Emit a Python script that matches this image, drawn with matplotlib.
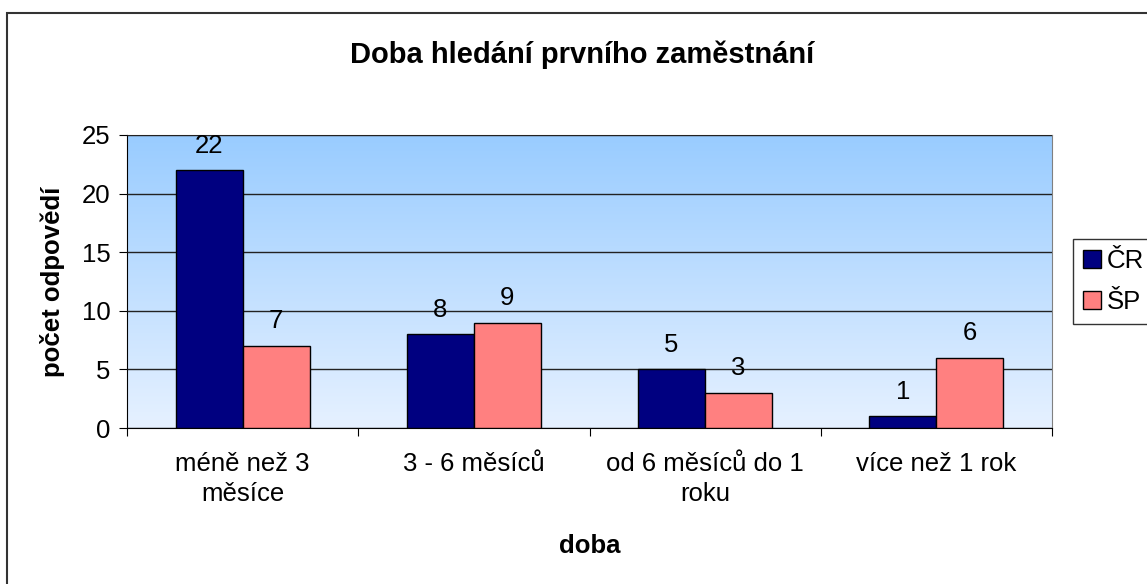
import matplotlib.pyplot as plt
import numpy as np
from matplotlib.patches import Rectangle

plt.rcParams['font.family'] = ['Liberation Sans', 'DejaVu Sans']

categories = ['méně než 3\nměsíce', '3 - 6 měsíců', 'od 6 měsíců do 1\nroku', 'více než 1 rok']
cr = [22, 8, 5, 1]
sp = [7, 9, 3, 6]
series_names = ['ČR', 'ŠP']

fs = 18.5

fig = plt.figure(figsize=(11.47, 5.84), dpi=100)
ax = fig.add_axes([127 / 1147, 1 - 428 / 584, (1052 - 127) / 1147, (428 - 135) / 584])

# outer chart frame
fig.patches.append(Rectangle((7 / 1147, -0.05), 1.1, 1 - 13 / 584 + 0.05,
                             transform=fig.transFigure, fill=False,
                             edgecolor='#333333', linewidth=1.5))

# gradient background
grad = np.linspace(0, 1, 256).reshape(-1, 1)
top = np.array([0x99, 0xCC, 0xFF]) / 255
bot = np.array([0xE6, 0xF1, 0xFF]) / 255
img = bot + (top - bot) * grad
ax.imshow(img[:, None, :].repeat(2, axis=1), extent=[-0.5, 3.5, 0, 25],
          origin='lower', aspect='auto', zorder=0)

x = np.arange(len(categories))
w = 0.29
b1 = ax.bar(x - w / 2, cr, w, color='#000080', edgecolor='black', linewidth=1, zorder=3, label=series_names[0])
b2 = ax.bar(x + w / 2, sp, w, color='#FF8080', edgecolor='black', linewidth=1, zorder=3, label=series_names[1])
ax.bar_label(b1, padding=9, fontsize=fs)
ax.bar_label(b2, padding=9, fontsize=fs)

ax.set_xlim(-0.5, 3.5)
ax.set_ylim(0, 25)
ax.set_yticks(range(0, 26, 5))
ax.yaxis.grid(True, color='#222222', linewidth=1, zorder=1)
ax.set_axisbelow(False)
for gl in ax.get_ygridlines():
    gl.set_zorder(1)

ax.set_xticks(np.arange(-0.5, 4, 1), minor=False)
ax.set_xticklabels([])
ax.set_xticks(x, minor=True)
ax.set_xticklabels(categories, minor=True, fontsize=fs, linespacing=1.35)
ax.tick_params(axis='x', which='minor', length=0, pad=17)
ax.tick_params(axis='x', which='major', length=6, direction='out', color='black')
ax.tick_params(axis='y', labelsize=fs, length=6, direction='out', pad=6)

ax.spines['top'].set_color('#808080')
ax.spines['right'].set_color('#808080')
ax.spines['left'].set_color('black')
ax.spines['bottom'].set_color('black')

ax.set_ylabel('počet odpovědí', fontsize=fs, fontweight='bold', labelpad=12)
ax.set_xlabel('doba', fontsize=fs, fontweight='bold', labelpad=20)
fig.text(582 / 1147, 1 - 55 / 584, 'Doba hledání prvního zaměstnání',
         ha='center', va='center', fontsize=21, fontweight='bold')

leg = fig.legend(loc='upper left', bbox_to_anchor=(1073 / 1147, 1 - 239 / 584),
                 fontsize=fs, frameon=True, fancybox=False, edgecolor='black',
                 handlelength=0.7, handleheight=0.7, handletextpad=0.2,
                 borderaxespad=0, borderpad=0.4, labelspacing=0.65)
leg.get_frame().set_linewidth(1)

fig.savefig('out.png', dpi=100)
